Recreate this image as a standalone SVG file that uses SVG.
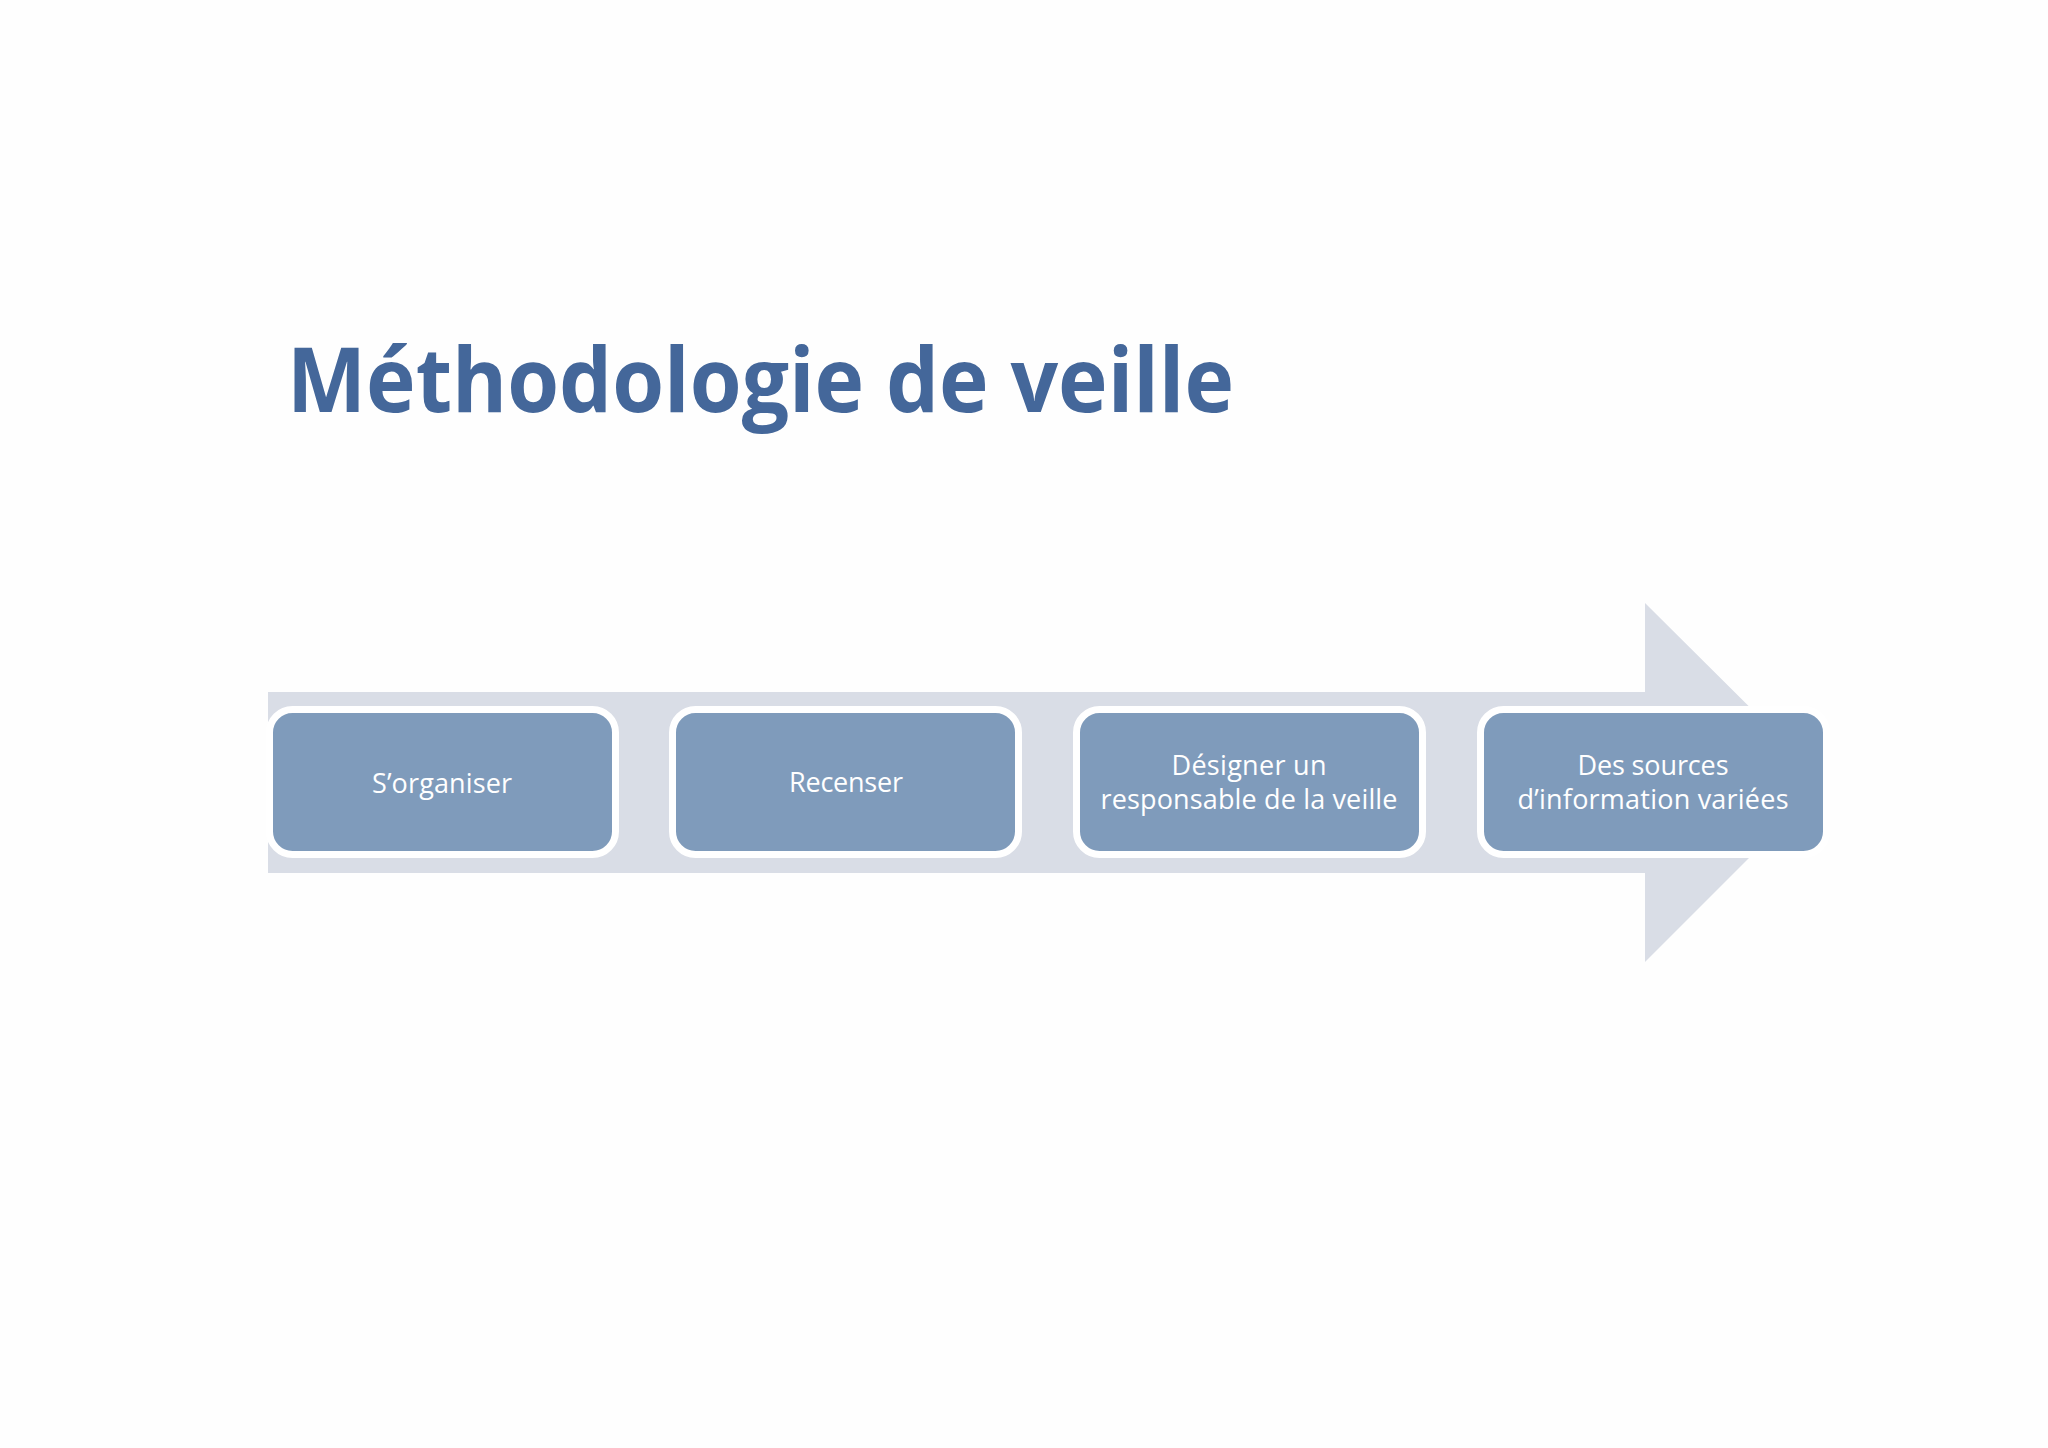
<svg xmlns="http://www.w3.org/2000/svg" width="2048" height="1448" viewBox="0 0 2048 1448">
<style>
.title{font-family:"Open Sans","Noto Sans","DejaVu Sans",sans-serif;font-weight:700;font-size:90px;fill:#44679a}
.box{fill:#7f9bbb;stroke:#ffffff;stroke-width:7}
.lbl{font-family:"Open Sans","Noto Sans","DejaVu Sans",sans-serif;font-size:27px;fill:#ffffff;text-anchor:middle}
</style>
<rect width="2048" height="1448" fill="#fefefe"/>
<text class="title" x="287" y="412" textLength="947" lengthAdjust="spacingAndGlyphs">Méthodologie de veille</text>
<g id="connectors">
<polygon id="arrow" points="268,692 1645,692 1645,603 1825,782 1645,962 1645,873 268,873" fill="#d9dde6"/>
</g>
<g id="node1">
<rect class="box" x="269.5" y="709.5" width="346" height="145" rx="23"/>
<text class="lbl" x="442" y="793" textLength="140">S’organiser</text>
</g>
<g id="node2">
<rect class="box" x="672.5" y="709.5" width="346" height="145" rx="23"/>
<text class="lbl" x="846" y="792" textLength="114">Recenser</text>
</g>
<g id="node3">
<rect class="box" x="1076.5" y="709.5" width="346" height="145" rx="23"/>
<text class="lbl" x="1249" y="775" textLength="155">Désigner un</text>
<text class="lbl" x="1249" y="809" textLength="297">responsable de la veille</text>
</g>
<g id="node4">
<rect class="box" x="1480.5" y="709.5" width="346" height="145" rx="23"/>
<text class="lbl" x="1653" y="775" textLength="151">Des sources</text>
<text class="lbl" x="1653" y="809" textLength="271">d’information variées</text>
</g>
</svg>
